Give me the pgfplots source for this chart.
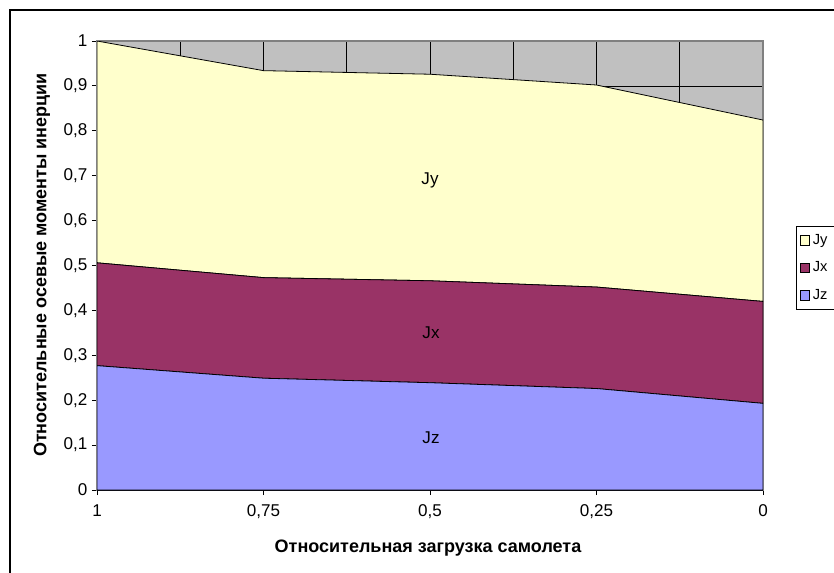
\documentclass[border=0pt]{standalone}
\usepackage{fontspec}
\setmainfont{Liberation Sans}
\usepackage{pgfplots}
\pgfplotsset{compat=1.18}
\definecolor{jy}{HTML}{FFFFCC}
\definecolor{jx}{HTML}{993366}
\definecolor{jz}{HTML}{9999FF}
\definecolor{bg}{HTML}{C0C0C0}
\definecolor{frame}{HTML}{808080}
\begin{document}
\begin{tikzpicture}
\useasboundingbox (0,0) rectangle (625.5pt,-429pt);
\draw[line width=0.9pt] (7.5pt,-440pt) -- (7.5pt,-7.5pt) -- (640pt,-7.5pt);
\begin{axis}[
  at={(72.75pt,-367.5pt)}, anchor=south west,
  scale only axis, width=499.5pt, height=336.75pt,
  xmin=0, xmax=4, ymin=0, ymax=1,
  stack plots=y,
  axis background/.style={fill=bg},
  axis line style={draw=frame, line width=1.2pt},
  xtick={0,1,2,3,4}, xticklabels={1,{0,75},{0,5},{0,25},0},
  minor xtick={0.5,1.5,2.5,3.5},
  ytick={0,0.1,0.2,0.3,0.4,0.5,0.6,0.7,0.8,0.9,1},
  yticklabels={0,{0,1},{0,2},{0,3},{0,4},{0,5},{0,6},{0,7},{0,8},{0,9},1},
  xmajorgrids, xminorgrids, ymajorgrids,
  grid style={black, line width=0.6pt},
  minor grid style={black, line width=0.6pt},
  tick align=outside, xtick pos=bottom, ytick pos=left,
  major tick length=3.75pt, minor tick length=0pt,
  tick style={black, line width=0.75pt},
  ticklabel style={font=\fontsize{12.8pt}{14pt}\selectfont},
  xticklabel style={yshift=-4pt},
  /pgf/number format/assume math mode=true,
  reverse legend,
  legend style={at={(axis description cs:1.049,0.588)}, anchor=north west,
    draw=black, line width=0.6pt, font=\fontsize{11pt}{12pt}\selectfont,
    row sep=7.5pt, inner xsep=3pt, inner ysep=4pt,
    legend cell align=left},
  legend image code/.code={\draw[#1,draw=black,line width=0.6pt] (0pt,-3.5pt) rectangle (7pt,3.5pt);},
]
\addplot[fill=jz, draw=black, line width=0.6pt] coordinates {(0,0.277) (1,0.249) (2,0.239) (3,0.226) (4,0.193)} \closedcycle;
\addlegendentry{Jz}
\addplot[fill=jx, draw=black, line width=0.6pt] coordinates {(0,0.229) (1,0.224) (2,0.227) (3,0.226) (4,0.227)} \closedcycle;
\addlegendentry{Jx}
\addplot[fill=jy, draw=black, line width=0.6pt] coordinates {(0,0.494) (1,0.461) (2,0.460) (3,0.450) (4,0.404)} \closedcycle;
\addlegendentry{Jy}
\draw[black, line width=1.5pt] (axis cs:0,1) -- (axis cs:0,0) -- (axis cs:4,0);
\end{axis}
\node[font=\fontsize{12.8pt}{14pt}\selectfont] at (322.5pt,-135pt) {Jy};
\node[font=\fontsize{12.8pt}{14pt}\selectfont] at (323.25pt,-249.75pt) {Jx};
\node[font=\fontsize{12.8pt}{14pt}\selectfont] at (323.25pt,-328.1pt) {Jz};
\node[rotate=90, font=\bfseries\fontsize{13.5pt}{15pt}\selectfont] at (31.5pt,-198.75pt) {Относительные осевые моменты инерции};
\node[font=\bfseries\fontsize{13.5pt}{15pt}\selectfont] at (321pt,-411pt) {Относительная загрузка самолета};
\end{tikzpicture}
\end{document}
